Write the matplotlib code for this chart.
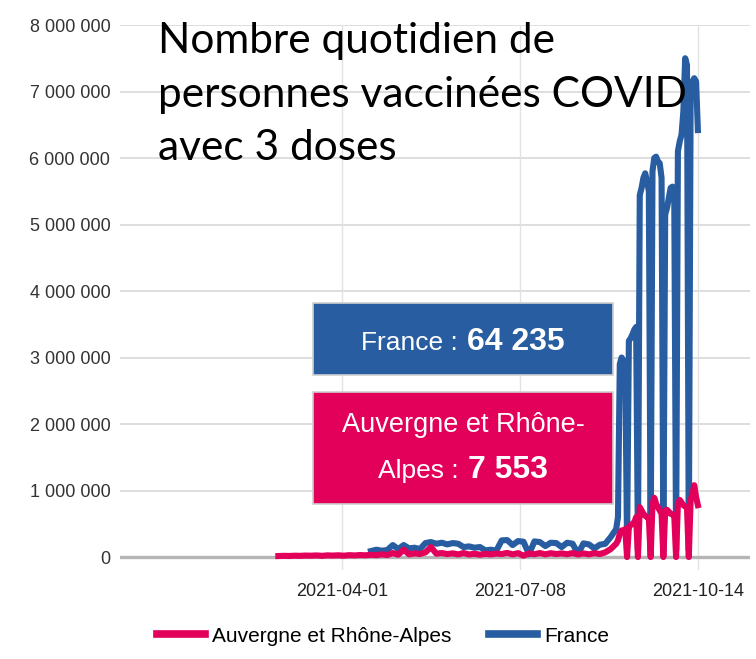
import matplotlib
matplotlib.use("Agg")
import matplotlib.pyplot as plt
import matplotlib.dates as mdates
from matplotlib.patches import Rectangle
from matplotlib.lines import Line2D
import numpy as np
import pandas as pd

# ---------------- data ----------------
dates_early = pd.date_range("2021-02-25", "2021-08-30", freq="3D")   # 63 points
dates_late = pd.date_range("2021-08-31", "2021-10-14", freq="D")     # 45 points

# Auvergne et Rhône-Alpes (thousands)
ara_early = [15, 18, 16, 20, 18, 22, 20, 24, 18, 25, 22, 26, 20, 28, 24, 30,
             26, 34, 28, 40, 30, 60, 35, 110, 40, 55, 45, 70, 150,
             50, 60, 45, 55, 40, 60, 38, 50, 35, 48, 40, 52,
             45, 62, 40, 58, 20, 55, 42, 60, 40, 58, 45, 55,
             42, 60, 38, 55, 40, 58, 45, 70, 120, 200]
ara_late = [250, 350, 400, 380, 420, 0, 450, 480, 500, 520, 600, 0,
            750, 700, 650, 620, 600, 580, 0,
            800, 890, 800, 750, 700, 650, 0,
            700, 710, 680, 650, 640, 620, 0,
            800, 860, 820, 780, 760, 740, 0,
            850, 950, 1080, 900, 780]

# France (thousands), NaN before the series starts
fr_early = [np.nan] * 17 + [90, 110, 95, 105, 180, 120,
            180, 130, 140, 120, 210, 225, 200, 215, 190, 210, 200,
            150, 160, 140, 150, 100, 110, 95, 250, 255, 180, 240, 230,
            40, 235, 225, 165, 215, 210, 150, 215, 200, 50, 205, 190,
            130, 185, 200, 300, 420]
fr_late = [600, 2900, 3000, 2950, 2850, 200, 3250, 3290, 3350, 3420, 3460, 100,
           5440, 5550, 5700, 5770, 5650, 5500, 100,
           5800, 6000, 6020, 5950, 5920, 5700, 100,
           5150, 5250, 5400, 5550, 5570, 5400, 100,
           6100, 6250, 6350, 6700, 7500, 7400, 100,
           6900, 7150, 7200, 7150, 6420]

y_ticks = [0, 1000000, 2000000, 3000000, 4000000, 5000000, 6000000, 7000000, 8000000]
x_tick_labels = ["2021-04-01", "2021-07-08", "2021-10-14"]

title_text = "Nombre quotidien de\npersonnes vaccinées COVID\navec 3 doses"
legend_labels = ["Auvergne et Rhône-Alpes", "France"]
tip_fr = ("France :", "64 235")
tip_ara = ("Auvergne et Rhône-", "Alpes :", "7 553")

# ---------------- style ----------------
RED = "#E3005A"
BLUE = "#285DA1"
W, H = 756, 659
arial = ["Liberation Sans", "DejaVu Sans"]

fig = plt.figure(figsize=(W / 100, H / 100), dpi=100)
ax = fig.add_axes([120 / W, 1 - 570 / H, 630 / W, 545 / H])

dates = list(dates_early) + list(dates_late)
ara = np.array(ara_early + ara_late, dtype=float) * 1000
fr = np.array(fr_early + fr_late, dtype=float) * 1000

ax.plot(dates, fr, color=BLUE, lw=4.4, solid_joinstyle="round", zorder=3)
ax.plot(dates, ara, color=RED, lw=4.4, solid_joinstyle="round", zorder=4)

ax.set_ylim(-195000, 8000000)
x0 = mdates.date2num(pd.Timestamp("2021-04-01"))
ax.set_xlim(x0 - 122.2, x0 + 224.7)

ax.set_yticks(y_ticks)
ax.set_yticklabels([f"{v:,}".replace(",", " ") for v in y_ticks],
                   family=arial, fontsize=13, color="#333333")
ax.set_xticks([mdates.date2num(pd.Timestamp(d)) for d in x_tick_labels])
ax.set_xticklabels(x_tick_labels, family=arial, fontsize=13, color="#222222")
ax.tick_params(axis="both", length=0)
ax.tick_params(axis="y", pad=7)
ax.tick_params(axis="x", pad=9)

for s in ax.spines.values():
    s.set_visible(False)
for v in y_ticks[1:]:
    ax.axhline(v, color="#dedede", lw=1.4, zorder=1)
for d in x_tick_labels:
    ax.axvline(mdates.date2num(pd.Timestamp(d)), color="#e2e2e2", lw=1.0, zorder=1)
ax.axhline(0, color="#b5b5b5", lw=2.4, zorder=2)

# title overlay
fig.text(158 / W, 1 - 22 / H, title_text, family=["Lato", "DejaVu Sans"],
         fontsize=30.5, va="top", ha="left", linespacing=1.5, color="black")

# tooltips
def box(x0p, y0p, x1p, y1p, color):
    fig.patches.append(Rectangle((x0p / W, 1 - y1p / H), (x1p - x0p) / W, (y1p - y0p) / H,
                                 transform=fig.transFigure, facecolor=color,
                                 edgecolor="#cfcfcf", lw=1.2, zorder=5))

box(313, 303, 613, 375, BLUE)
box(313, 392, 613, 504, RED)

fig.canvas.draw()
renderer = fig.canvas.get_renderer()

def mixed(parts, cx, base_y):
    texts = []
    for s, weight, size in parts:
        t = fig.text(0, 1 - base_y / H, s, family=arial, fontsize=size,
                     fontweight=weight, color="white", va="baseline", ha="left", zorder=6)
        texts.append(t)
    widths = [t.get_window_extent(renderer).width for t in texts]
    gap = 9
    total = sum(widths) + gap * (len(texts) - 1)
    x = cx - total / 2
    for t, w in zip(texts, widths):
        t.set_x(x / W)
        x += w + gap

mixed([(tip_fr[0], "normal", 19), (tip_fr[1], "bold", 23)], 463, 350)
mixed([(tip_ara[0], "normal", 19.5)], 463, 432)
mixed([(tip_ara[1], "normal", 19), (tip_ara[2], "bold", 23)], 463, 478)

# legend
handles = [Line2D([], [], color=RED, lw=5.5), Line2D([], [], color=BLUE, lw=5.5)]
fig.legend(handles, legend_labels, loc="center", bbox_to_anchor=(383 / W, 1 - 636 / H),
           ncol=2, frameon=False, prop={"family": arial, "size": 15},
           handlelength=2.3, handletextpad=0.35, columnspacing=1.8)

fig.savefig("out.png", dpi=100)
